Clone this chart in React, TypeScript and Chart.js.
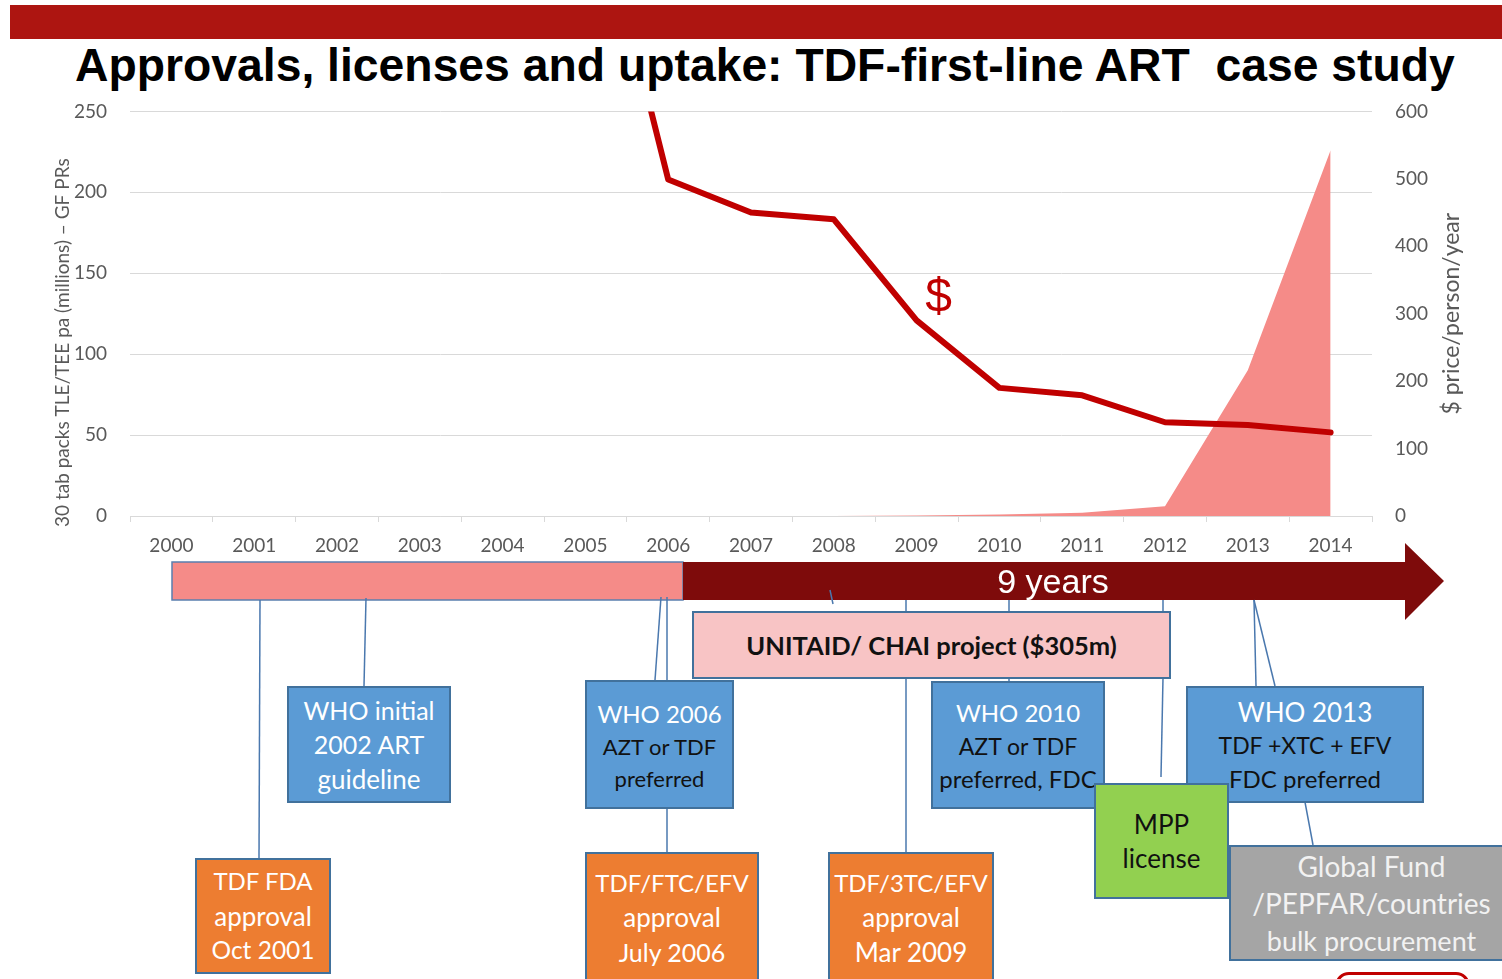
import React, { useEffect, useRef } from 'react';
import { Chart, registerables } from 'chart.js';

Chart.register(...registerables);

// ---- chart data ----
const years = ['2000', '2001', '2002', '2003', '2004', '2005', '2006', '2007', '2008', '2009', '2010', '2011', '2012', '2013', '2014'];
const priceUsdPerPersonYear = [null, null, null, null, null, 990, 499, 450, 440, 290, 190, 179, 139, 135, 124];
const uptakeMillionPacks = [0, 0, 0, 0, 0, 0, 0, 0, 0, 0.3, 1, 2, 6, 90, 226];
const leftAxisMax = 250;
const leftAxisStep = 50;
const rightAxisMax = 600;
const rightAxisStep = 100;
const leftAxisTitle = '30 tab packs TLE/TEE pa (millions) \u2013 GF PRs';
const rightAxisTitle = '$ price/person/year';
const priceMarker = '$';
const slideTitle = 'Approvals, licenses and uptake: TDF-first-line ART  case study';
const arrowLabel = '9 years';

const TICK_COLOR = '#595959';
const GRID_COLOR = '#D9D9D9';
const CANVAS_TOP = 77;
const CANVAS_H = 488;

type TextLine = { t: string; size: number; color: string; lh: number; bold?: boolean };
type Box = { x: number; y: number; w: number; h: number; bg: string; lines: TextLine[] };

const W = '#FFFFFF';
const K = '#111111';

const boxes: Box[] = [
  { x: 692, y: 611, w: 479, h: 68, bg: '#F8C4C5', lines: [{ t: 'UNITAID/ CHAI project ($305m)', size: 25.5, color: K, lh: 30, bold: true }] },
  { x: 287, y: 686, w: 164, h: 117, bg: '#5B9BD5', lines: [
    { t: 'WHO initial', size: 25, color: W, lh: 34.5 },
    { t: '2002 ART', size: 25, color: W, lh: 34.5 },
    { t: 'guideline', size: 26, color: W, lh: 34.5 }] },
  { x: 585, y: 680, w: 149, h: 129, bg: '#5B9BD5', lines: [
    { t: 'WHO 2006', size: 24, color: W, lh: 35 },
    { t: 'AZT or TDF', size: 22, color: K, lh: 32 },
    { t: 'preferred', size: 22, color: K, lh: 31 }] },
  { x: 931, y: 681, w: 174, h: 128, bg: '#5B9BD5', lines: [
    { t: 'WHO 2010', size: 24, color: W, lh: 34 },
    { t: 'AZT or TDF', size: 23, color: K, lh: 33 },
    { t: 'preferred, FDC', size: 24, color: K, lh: 31 }] },
  { x: 1186, y: 686, w: 238, h: 117, bg: '#5B9BD5', lines: [
    { t: 'WHO 2013', size: 26, color: W, lh: 34 },
    { t: 'TDF +XTC + EFV', size: 23, color: K, lh: 33 },
    { t: 'FDC preferred', size: 24, color: K, lh: 33 }] },
  { x: 1094, y: 783, w: 135, h: 116, bg: '#92D050', lines: [
    { t: 'MPP', size: 26, color: K, lh: 34 },
    { t: 'license', size: 26, color: K, lh: 34 }] },
  { x: 1229, y: 845, w: 285, h: 116, bg: '#A5A5A5', lines: [
    { t: 'Global Fund', size: 28, color: '#F2F2F2', lh: 37 },
    { t: '/PEPFAR/countries', size: 28, color: '#F2F2F2', lh: 37 },
    { t: 'bulk procurement', size: 27, color: '#F2F2F2', lh: 37 }] },
  { x: 195, y: 858, w: 136, h: 116, bg: '#ED7D31', lines: [
    { t: 'TDF FDA', size: 24, color: W, lh: 34.5 },
    { t: 'approval', size: 26, color: W, lh: 34.5 },
    { t: 'Oct 2001', size: 24.5, color: W, lh: 34.5 }] },
  { x: 585, y: 852, w: 174, h: 131, bg: '#ED7D31', lines: [
    { t: 'TDF/FTC/EFV', size: 24, color: W, lh: 34.5 },
    { t: 'approval', size: 26, color: W, lh: 34.5 },
    { t: 'July 2006', size: 25, color: W, lh: 34.5 }] },
  { x: 828, y: 852, w: 166, h: 131, bg: '#ED7D31', lines: [
    { t: 'TDF/3TC/EFV', size: 24, color: W, lh: 34.5 },
    { t: 'approval', size: 26, color: W, lh: 34.5 },
    { t: 'Mar 2009', size: 26, color: W, lh: 34.5 }] },
];

const connectors: number[][] = [
  [260, 600, 259, 858],
  [366, 598, 364, 686],
  [661, 597, 655, 680],
  [667, 597, 667, 680],
  [667, 808, 667, 852],
  [830, 590, 833, 604],
  [906, 600, 906, 611],
  [906, 678, 906, 852],
  [1009, 600, 1009, 611],
  [1009, 678, 1009, 681],
  [1163, 600, 1163, 611],
  [1163, 678, 1161, 777],
  [1254, 600, 1256, 686],
  [1254, 600, 1275, 686],
  [1305, 802, 1313, 845],
];

const annotPlugin = {
  id: 'annot',
  afterDraw(chart: any) {
    const ctx = chart.ctx;
    const area = chart.chartArea;
    ctx.save();
    ctx.fillStyle = TICK_COLOR;
    ctx.textAlign = 'center';
    ctx.textBaseline = 'middle';
    ctx.font = '19px Lato';
    ctx.save();
    ctx.translate(63, (area.top + area.bottom) / 2 + 29);
    ctx.rotate(-Math.PI / 2);
    ctx.fillText(leftAxisTitle, 0, 0);
    ctx.restore();
    ctx.font = '23px Lato';
    ctx.save();
    ctx.translate(1452, (area.top + area.bottom) / 2);
    ctx.rotate(-Math.PI / 2);
    ctx.fillText(rightAxisTitle, 0, 0);
    ctx.restore();
    // price marker
    const xs = chart.scales.x;
    const y1 = chart.scales.y1;
    const px = xs.getPixelForValue(9) + 22;
    const py = y1.getPixelForValue(322);
    ctx.fillStyle = '#C00000';
    ctx.font = '48px "Liberation Sans"';
    ctx.fillText(priceMarker, px, py);
    ctx.restore();
  },
};

function ChartCanvas() {
  const ref = useRef<HTMLCanvasElement | null>(null);
  useEffect(() => {
    if (!ref.current) return;
    const font = { family: 'Lato', size: 19 };
    const chart = new Chart(ref.current, {
      type: 'line',
      data: {
        labels: years,
        datasets: [
          {
            label: 'Price',
            data: priceUsdPerPersonYear,
            yAxisID: 'y1',
            borderColor: '#C00000',
            borderWidth: 6,
            pointRadius: 0,
            tension: 0,
            fill: false,
            borderCapStyle: 'round',
            borderJoinStyle: 'round',
          },
          {
            label: 'Uptake',
            data: uptakeMillionPacks,
            yAxisID: 'y',
            borderWidth: 0,
            borderColor: 'rgba(0,0,0,0)',
            backgroundColor: '#F58B88',
            pointRadius: 0,
            tension: 0,
            fill: 'origin',
          },
        ],
      },
      options: {
        responsive: false,
        animation: false,
        layout: { padding: { top: 16, left: 0, right: 0, bottom: 0 } },
        plugins: { legend: { display: false }, tooltip: { enabled: false } },
        scales: {
          x: {
            type: 'category',
            offset: true,
            grid: { offset: true, drawOnChartArea: false, tickLength: 6, color: GRID_COLOR },
            border: { display: true, color: GRID_COLOR },
            ticks: { color: TICK_COLOR, font, padding: 12, maxRotation: 0, autoSkip: false },
            afterFit: (s: any) => { s.height = 49; },
          },
          y: {
            position: 'left',
            min: 0,
            max: leftAxisMax,
            ticks: { stepSize: leftAxisStep, color: TICK_COLOR, font, padding: 23 },
            grid: { color: GRID_COLOR, drawTicks: false },
            border: { display: false },
            afterFit: (s: any) => { s.width = 130; },
          },
          y1: {
            position: 'right',
            min: 0,
            max: rightAxisMax,
            ticks: { stepSize: rightAxisStep, color: TICK_COLOR, font, padding: 23 },
            grid: { drawOnChartArea: false, drawTicks: false },
            border: { display: false },
            afterFit: (s: any) => { s.width = 130; },
          },
        },
      },
      plugins: [annotPlugin],
    } as any);
    return () => chart.destroy();
  }, []);
  return (
    <canvas
      ref={ref}
      width={1502}
      height={CANVAS_H}
      style={{ position: 'absolute', left: 0, top: CANVAS_TOP, width: 1502, height: CANVAS_H }}
    />
  );
}

export default function App() {
  useEffect(() => {
    document.body.style.margin = '0';
    document.body.style.overflow = 'hidden';
  }, []);
  return (
    <div style={{ position: 'absolute', left: 0, top: 0, width: 1502, height: 979, overflow: 'hidden', background: '#FFFFFF' }}>
      <div style={{ position: 'absolute', left: 10, top: 5, width: 1492, height: 34, background: '#AD1511' }} />
      <div
        style={{
          position: 'absolute', left: 75, top: 42, whiteSpace: 'pre', fontFamily: '"Liberation Sans", Arial, sans-serif',
          fontWeight: 'bold', fontSize: 46.3, lineHeight: '46px', color: '#000',
        }}
      >
        {slideTitle}
      </div>
      <ChartCanvas />
      <svg width={1502} height={979} style={{ position: 'absolute', left: 0, top: 0 }}>
        <rect x={172} y={562} width={511} height={38} fill="#F58B88" stroke="#5A7FAF" strokeWidth={1.5} />
        <polygon points="683,562 1405,562 1405,543 1444,581 1405,620 1405,600 683,600" fill="#7E0B0B" />
        <text x={1053} y={581} fill="#FFFFFF" fontFamily='"Liberation Sans", Arial, sans-serif' fontSize={34}
          textAnchor="middle" dominantBaseline="central">{arrowLabel}</text>
        {connectors.map((c, i) => (
          <line key={i} x1={c[0]} y1={c[1]} x2={c[2]} y2={c[3]} stroke="#4A78AE" strokeWidth={1.5} />
        ))}
      </svg>
      {boxes.map((b, i) => (
        <div
          key={i}
          style={{
            position: 'absolute', left: b.x, top: b.y, width: b.w, height: b.h, background: b.bg,
            border: '2px solid #41719C', boxSizing: 'border-box', display: 'flex', flexDirection: 'column',
            justifyContent: 'center', alignItems: 'center', fontFamily: 'Lato, sans-serif',
          }}
        >
          {b.lines.map((l, j) => (
            <div key={j} style={{ fontSize: l.size, lineHeight: `${l.lh}px`, color: l.color, fontWeight: l.bold ? 'bold' : 'normal', whiteSpace: 'nowrap' }}>
              {l.t}
            </div>
          ))}
        </div>
      ))}
      <div style={{ position: 'absolute', left: 1335, top: 972, width: 135, height: 30, border: '3px solid #C00000', borderRadius: 14, boxSizing: 'border-box' }} />
    </div>
  );
}
